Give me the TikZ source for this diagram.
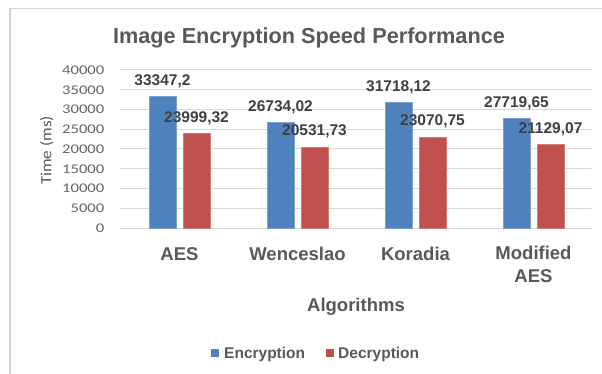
\documentclass[tikz,border=0pt]{standalone}
\usepackage{fontspec}
\setmainfont{Liberation Sans}
\newfontfamily\tickfont[FakeStretch=1.25]{Carlito}
\newfontfamily\axisfont[FakeStretch=1.1]{Carlito}
\definecolor{encblue}{HTML}{4F81BD}
\definecolor{decred}{HTML}{C0504D}
\definecolor{txtgray}{HTML}{595959}
\definecolor{lbldark}{HTML}{404040}
\definecolor{tickgray}{HTML}{666666}
\definecolor{gridgray}{HTML}{D9D9D9}
\definecolor{framegray}{HTML}{D4D4D4}
\tikzset{
  titletext/.style={text=txtgray,font=\bfseries\fontsize{21.7}{26}\selectfont,inner sep=0pt,anchor=base},
  ticktext/.style={text=tickgray,font=\tickfont\fontsize{13.3}{15}\selectfont,inner sep=0pt,anchor=east},
  axistitle/.style={text=txtgray,font=\axisfont\fontsize{15.5}{18}\selectfont,inner sep=0pt,rotate=90},
  cattext/.style={text=txtgray,font=\bfseries\fontsize{18.5}{22}\selectfont,inner sep=0pt,align=center},
  valtext/.style={text=lbldark,font=\bfseries\fontsize{15.5}{18}\selectfont,inner sep=0pt,anchor=base},
  legtext/.style={text=txtgray,font=\bfseries\fontsize{15.5}{18}\selectfont,inner sep=0pt,anchor=base west},
  gridline/.style={draw=gridgray,line width=1pt},
  encbar/.style={fill=encblue,draw=encblue!75!white,line width=0.6pt},
  decbar/.style={fill=decred,draw=decred!75!white,line width=0.6pt},
}
\begin{document}
\begin{tikzpicture}[x=1pt,y=-1pt]
\useasboundingbox (0,0) rectangle (602,374);
\fill[white] (0,0) rectangle (602,374);
% frame
\draw[framegray,line width=1.6pt] (9.8,374) -- (9.8,8.6) -- (602,8.6);
% title
\node[titletext] (title) at (309,43.3) {Image Encryption Speed Performance};
% grid and ticks (values in thousands)
\foreach \k/\lab/\nm in {0/0/t0,5/5000/t1,10/10000/t2,15/15000/t3,20/20000/t4,25/25000/t5,30/30000/t6,35/35000/t7,40/40000/t8} {
  \pgfmathsetmacro{\yy}{228-\k*3.95}
  \draw[gridline] (120,\yy) -- (592,\yy);
  \node[ticktext] (\nm) at (104.5,\yy) {\lab};
}
\node[axistitle] (ytitle) at (46.7,150.5) {Time (ms)};
% bars (values in thousands)
\foreach \c/\e/\d in {179.5/33.3472/23.99932, 297.5/26.73402/20.53173, 415.5/31.71812/23.07075, 533.5/27.71965/21.12907} {
  \pgfmathsetmacro{\ye}{228-\e*3.95}
  \pgfmathsetmacro{\yd}{228-\d*3.95}
  \path[encbar] (\c-30.5,228) rectangle (\c-3.5,\ye);
  \path[decbar] (\c+3.5,228) rectangle (\c+30.5,\yd);
}
\foreach \c/\e/\d/\el/\dl/\nm in {
  179.5/33.3472/23.99932/{33347,2}/{23999,32}/aes,
  297.5/26.73402/20.53173/{26734,02}/{20531,73}/wen,
  415.5/31.71812/23.07075/{31718,12}/{23070,75}/kor,
  533.5/27.71965/21.12907/{27719,65}/{21129,07}/mod} {
  \pgfmathsetmacro{\ye}{228-\e*3.95}
  \pgfmathsetmacro{\yd}{228-\d*3.95}
  \node[valtext] (\nm-enc) at (\c-17,\ye-11) {\el};
  \node[valtext] (\nm-dec) at (\c+17,\yd-11) {\dl};
}
% category labels
\node[cattext,anchor=base] (cat1) at (179.5,260) {AES};
\node[cattext,anchor=base] (cat2) at (297.5,260) {Wenceslao};
\node[cattext,anchor=base] (cat3) at (415.5,260) {Koradia};
\node[cattext,anchor=north] (cat4) at (533.5,246.3) {Modified\\[0.5pt]AES};
\node[cattext,anchor=base] (xtitle) at (356,311) {Algorithms};
% legend
\fill[encblue] (211,348.5) rectangle (219,356.5);
\node[legtext] (leg1) at (224,358) {Encryption};
\fill[decred] (326,348.5) rectangle (334,356.5);
\node[legtext] (leg2) at (338,358) {Decryption};
\end{tikzpicture}
\end{document}
